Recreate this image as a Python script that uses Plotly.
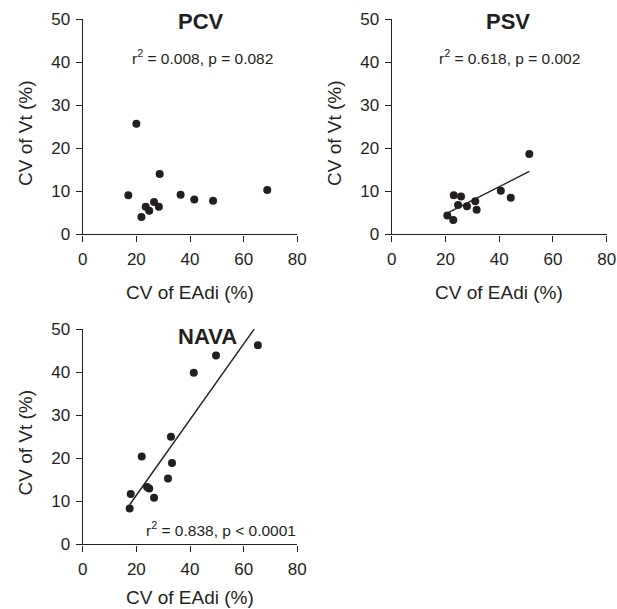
import plotly.graph_objects as go

# ---- data ----
pcv_x = [17.0, 20.0, 21.9, 23.5, 24.8, 26.6, 28.4, 28.7, 36.5, 41.6, 48.6, 68.8]
pcv_y = [9.1, 25.7, 4.0, 6.4, 5.5, 7.5, 6.4, 14.0, 9.2, 8.1, 7.8, 10.3]

psv_x = [20.7, 22.9, 23.1, 24.7, 25.8, 28.0, 31.1, 31.6, 40.6, 44.3, 51.2]
psv_y = [4.4, 3.3, 9.1, 6.8, 8.8, 6.5, 7.7, 5.7, 10.1, 8.5, 18.7]

nava_x = [17.5, 17.9, 22.0, 24.0, 24.8, 26.6, 31.8, 32.9, 33.3, 41.4, 49.7, 65.3]
nava_y = [8.3, 11.7, 20.4, 13.3, 13.0, 10.8, 15.3, 25.0, 18.9, 39.9, 43.9, 46.3]

psv_fit = {"slope": 0.317, "intercept": -1.62}
nava_fit = {"slope": 0.88, "intercept": -6.2}

x_ticks = [0, 20, 40, 60, 80]
y_ticks = [0, 10, 20, 30, 40, 50]

panel_titles = ["PCV", "PSV", "NAVA"]
stats_text = ["r<sup>2</sup> = 0.008, p = 0.082",
              "r<sup>2</sup> = 0.618, p = 0.002",
              "r<sup>2</sup> = 0.838, p < 0.0001"]

x_title = "CV of EAdi (%)"
y_title = "CV of Vt (%)"

# ---- figure ----
FONT = "Arial, Liberation Sans, Helvetica, sans-serif"
INK = "#231f20"
W, H = 617, 609
OFF = 0  # page body margin removed below

def px(x):
    return (x - OFF) / W

def py(y):
    return 1 - (y - OFF) / H

fig = go.Figure()

marker = dict(color=INK, size=8, line=dict(width=0))

fig.add_trace(go.Scatter(x=pcv_x, y=pcv_y, mode="markers", marker=marker,
                         xaxis="x", yaxis="y", showlegend=False, cliponaxis=False))
fig.add_trace(go.Scatter(x=psv_x, y=psv_y, mode="markers", marker=marker,
                         xaxis="x2", yaxis="y2", showlegend=False, cliponaxis=False))
fig.add_trace(go.Scatter(x=nava_x, y=nava_y, mode="markers", marker=marker,
                         xaxis="x3", yaxis="y3", showlegend=False, cliponaxis=False))

def fit_line(xs, fit):
    x0, x1 = min(xs), max(xs)
    return [x0, x1], [fit["slope"] * x0 + fit["intercept"], fit["slope"] * x1 + fit["intercept"]]

lx, ly = fit_line(psv_x, psv_fit)
fig.add_trace(go.Scatter(x=lx, y=ly, mode="lines", line=dict(color=INK, width=1.4),
                         xaxis="x2", yaxis="y2", showlegend=False))
lx, ly = fit_line(nava_x, nava_fit)
fig.add_trace(go.Scatter(x=lx, y=ly, mode="lines", line=dict(color=INK, width=1.4),
                         xaxis="x3", yaxis="y3", showlegend=False))

left_dom = [px(82.7), px(297.3)]
right_dom = [px(391.7), px(606.7)]
top_dom = [py(234.3), py(19.3)]
bot_dom = [py(544.3), py(329.3)]

TICKFONT = dict(family=FONT, size=17, color=INK)

def xax(domain, anchor):
    return dict(domain=domain, anchor=anchor, range=[0, 80], tickvals=x_ticks,
                showgrid=False, zeroline=False, showline=True, linecolor=INK, linewidth=1.4,
                ticks="outside", ticklen=6, tickwidth=1.4, tickcolor=INK,
                tickfont=TICKFONT, automargin=False, ticklabelstandoff=3)

def yax(domain, anchor):
    return dict(domain=domain, anchor=anchor, range=[0, 50], tickvals=y_ticks,
                showgrid=False, zeroline=False, showline=True, linecolor=INK, linewidth=1.4,
                ticks="outside", ticklen=6, tickwidth=1.4, tickcolor=INK,
                tickfont=TICKFONT, automargin=False, ticklabelstandoff=2)

fig.update_layout(
    template="none",
    width=W, height=H,
    margin=dict(l=0, r=0, t=0, b=0),
    paper_bgcolor="white", plot_bgcolor="white",
    xaxis=xax(left_dom, "y"), yaxis=yax(top_dom, "x"),
    xaxis2=xax(right_dom, "y2"), yaxis2=yax(top_dom, "x2"),
    xaxis3=xax(left_dom, "y3"), yaxis3=yax(bot_dom, "x3"),
)

title_font = dict(family=FONT, size=22, color=INK)
stat_font = dict(family=FONT, size=15.5, color=INK)
axis_title_font = dict(family=FONT, size=19, color=INK)

anns = [
    dict(text="<b>" + panel_titles[0] + "</b>", x=44, y=49.5, xref="x", yref="y", font=title_font),
    dict(text="<b>" + panel_titles[1] + "</b>", x=43.4, y=49.5, xref="x2", yref="y2", font=title_font),
    dict(text="<b>" + panel_titles[2] + "</b>", x=46.6, y=48.3, xref="x3", yref="y3", font=title_font),
    dict(text=stats_text[0], x=44.6, y=41.3, xref="x", yref="y", font=stat_font),
    dict(text=stats_text[1], x=43.7, y=41.3, xref="x2", yref="y2", font=stat_font),
    dict(text=stats_text[2], x=51.6, y=3.6, xref="x3", yref="y3", font=stat_font),
    # axis titles
    dict(text=x_title, x=px(190), y=py(292), xref="paper", yref="paper", font=axis_title_font),
    dict(text=x_title, x=px(499), y=py(292), xref="paper", yref="paper", font=axis_title_font),
    dict(text=x_title, x=px(190), y=py(597), xref="paper", yref="paper", font=axis_title_font),
    dict(text=y_title, x=px(25), y=py(133), xref="paper", yref="paper", font=axis_title_font, textangle=-90),
    dict(text=y_title, x=px(334), y=py(133), xref="paper", yref="paper", font=axis_title_font, textangle=-90),
    dict(text=y_title, x=px(25), y=py(442.5), xref="paper", yref="paper", font=axis_title_font, textangle=-90),
]
for a in anns:
    a.update(showarrow=False, xanchor="center", yanchor="middle")
fig.update_layout(annotations=anns)

fig.write_html(
    "out.html",
    config={"displayModeBar": False},
    post_script=(
        "document.body.style.margin='0px';"
        "document.body.style.overflow='hidden';"
        "document.documentElement.style.overflow='hidden';"
    ),
)
